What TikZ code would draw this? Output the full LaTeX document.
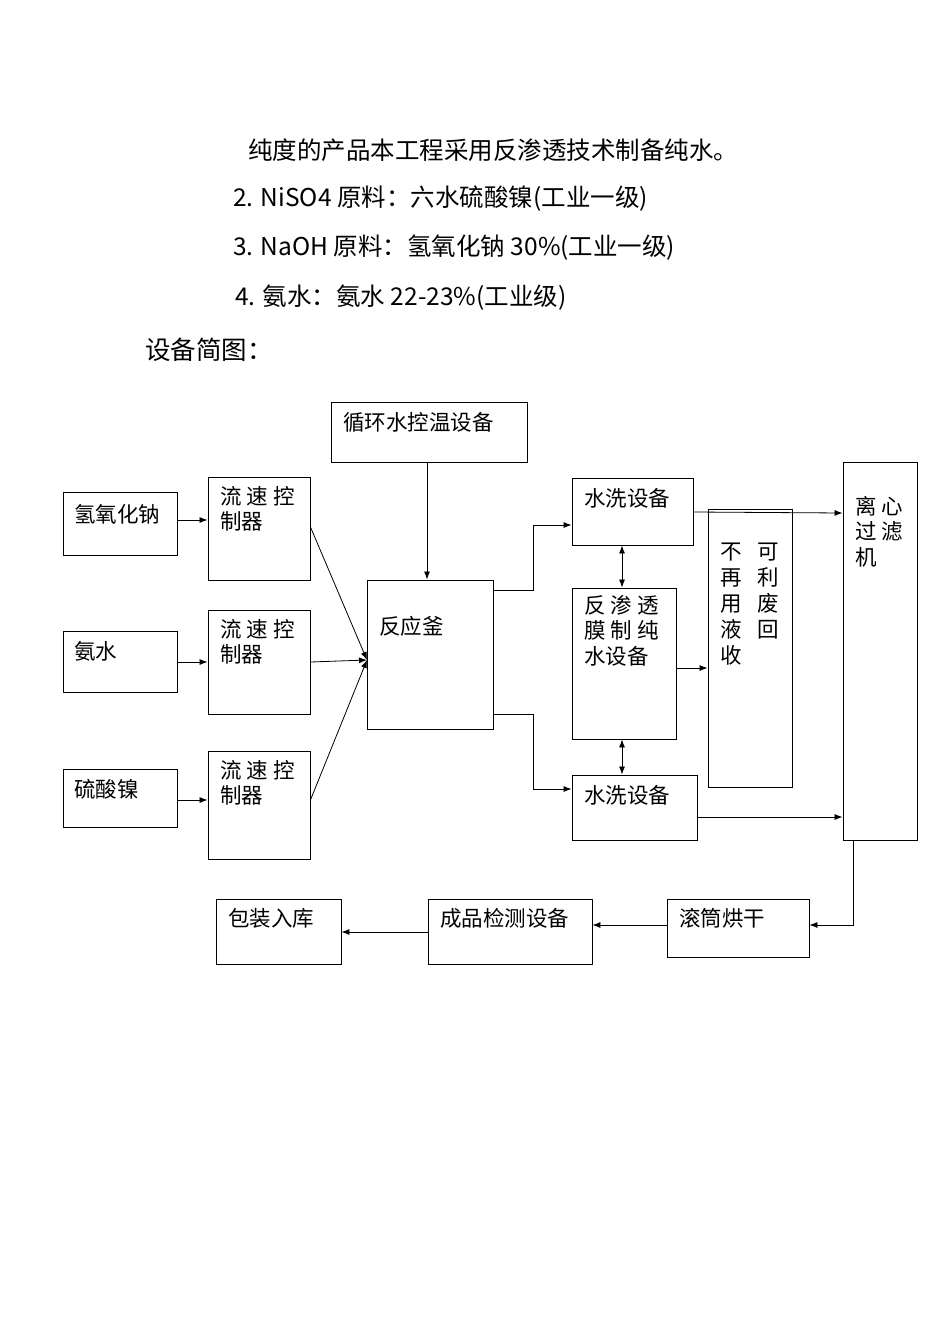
\documentclass[tikz,border=0pt]{standalone}
\usepackage{fontspec}
\setmainfont{Noto Sans CJK SC}
\usetikzlibrary{fit,arrows.meta}
\tikzset{
 box/.style={draw,line width=0.9pt,inner sep=0pt},
 txt/.style={inner sep=0pt,anchor=west,font=\fontsize{21.5}{25}\selectfont},
 mtxt/.style={inner sep=0pt,anchor=north west,align=left,font=\fontsize{21.5}{25.5}\selectfont},
 head/.style={inner sep=0pt,anchor=west,font=\fontsize{24.5}{28}\selectfont},
 arr/.style={line width=0.8pt,-{Latex[length=8pt,width=6pt]}},
 darr/.style={line width=0.8pt,{Latex[length=8pt,width=6pt]}-{Latex[length=8pt,width=6pt]}},
}
\begin{document}
\begin{tikzpicture}[x=1pt,y=-1pt]
\useasboundingbox (0,0) rectangle (950,1344);
\node[head] (h1) at (248,150) {纯度的产品本工程采用反渗透技术制备纯水。};
\node[head] (h2) at (233,199) {2. NiSO4 原料：六水硫酸镍(工业一级)};
\node[head] (h3) at (233,248) {3. NaOH 原料：氢氧化钠 30\%(工业一级)};
\node[head] (h4) at (235,298) {4. 氨水：氨水 22-23\%(工业级)};
\node[head,font=\fontsize{25.5}{28}\selectfont] (h5) at (145,350) {设备简图：};
% boxes
\node[box,fit={(331,402)(527,462)}] (xh) {};
\node[box,fit={(63,492)(177,555)}] (naoh) {};
\node[box,fit={(63,631)(177,692)}] (nh3) {};
\node[box,fit={(63,769)(177,827)}] (niso) {};
\node[box,fit={(208,477)(310,580)}] (f1) {};
\node[box,fit={(208,610)(310,714)}] (f2) {};
\node[box,fit={(208,751)(310,859)}] (f3) {};
\node[box,fit={(367,580)(493,729)}] (rx) {};
\node[box,fit={(572,478)(693,545)}] (w1) {};
\node[box,fit={(572,588)(676,739)}] (ro) {};
\node[box,fit={(708,509)(792,787)}] (waste) {};
\node[box,fit={(572,775)(697,840)}] (w2) {};
\node[box,fit={(843,462)(917,840)}] (cf) {};
\node[box,fit={(216,899)(341,964)}] (pk) {};
\node[box,fit={(428,899)(592,964)}] (qc) {};
\node[box,fit={(667,899)(809,957)}] (dry) {};
% texts
\node[txt] (t1) at (343,422) {循环水控温设备};
\node[txt] (t2) at (74,514) {氢氧化钠};
\node[txt] (t3) at (74,651) {氨水};
\node[txt] (t4) at (74,789) {硫酸镍};
\node[mtxt] (t5) at (220,486) {流\hspace{5pt}速\hspace{5pt}控\\制器};
\node[mtxt] (t6) at (220,619) {流\hspace{5pt}速\hspace{5pt}控\\制器};
\node[mtxt] (t7) at (220,760) {流\hspace{5pt}速\hspace{5pt}控\\制器};
\node[txt] (t8) at (379,626) {反应釜};
\node[txt] (t9) at (584,498) {水洗设备};
\node[mtxt] (t10) at (584,595) {反\hspace{5pt}渗\hspace{5pt}透\\膜\hspace{5pt}制\hspace{5pt}纯\\水设备};
\node[mtxt,font=\fontsize{21.5}{26}\selectfont] (t11) at (720,543) {不\hspace{16pt}可\\再\hspace{16pt}利\\用\hspace{16pt}废\\液\hspace{16pt}回\\收};
\node[txt] (t12) at (584,795) {水洗设备};
\node[mtxt] (t13) at (855,496) {离\hspace{5pt}心\\过\hspace{5pt}滤\\机};
\node[txt] (t14) at (228,918) {包装入库};
\node[txt] (t15) at (440,918) {成品检测设备};
\node[txt] (t16) at (679,918) {滚筒烘干};
% connectors
\coordinate (rin) at (367,660);
\draw[arr] (naoh.east|-0,520) -- (f1.west|-0,520);
\draw[arr] (nh3.east|-0,662) -- (f2.west|-0,662);
\draw[arr] (niso.east|-0,800) -- (f3.west|-0,800);
\draw[arr] (f1.east|-0,527) -- (rin);
\draw[arr] (f2.east|-0,662) -- (rin);
\draw[arr] (f3.east|-0,800) -- (rin);
\draw[arr] (xh.south-|427,0) -- (rx.north-|427,0);
\draw[arr] (rx.east|-0,590) -| (533,525) -- (w1.west|-0,525);
\draw[arr] (rx.east|-0,714) -| (533,789) -- (w2.west|-0,789);
\draw[arr] (w1.east|-0,512) -- (cf.west|-0,513);
\draw[arr] (w2.east|-0,817) -- (cf.west|-0,817);
\draw[darr] (w1.south-|622,0) -- (ro.north-|622,0);
\draw[darr] (ro.south-|622,0) -- (w2.north-|622,0);
\draw[arr] (ro.east|-0,668) -- (waste.west|-0,668);
\draw[arr] (cf.south-|853,0) |- (dry.east|-0,925);
\draw[arr] (dry.west|-0,925) -- (qc.east|-0,925);
\draw[arr] (qc.west|-0,932) -- (pk.east|-0,932);
\end{tikzpicture}
\end{document}
